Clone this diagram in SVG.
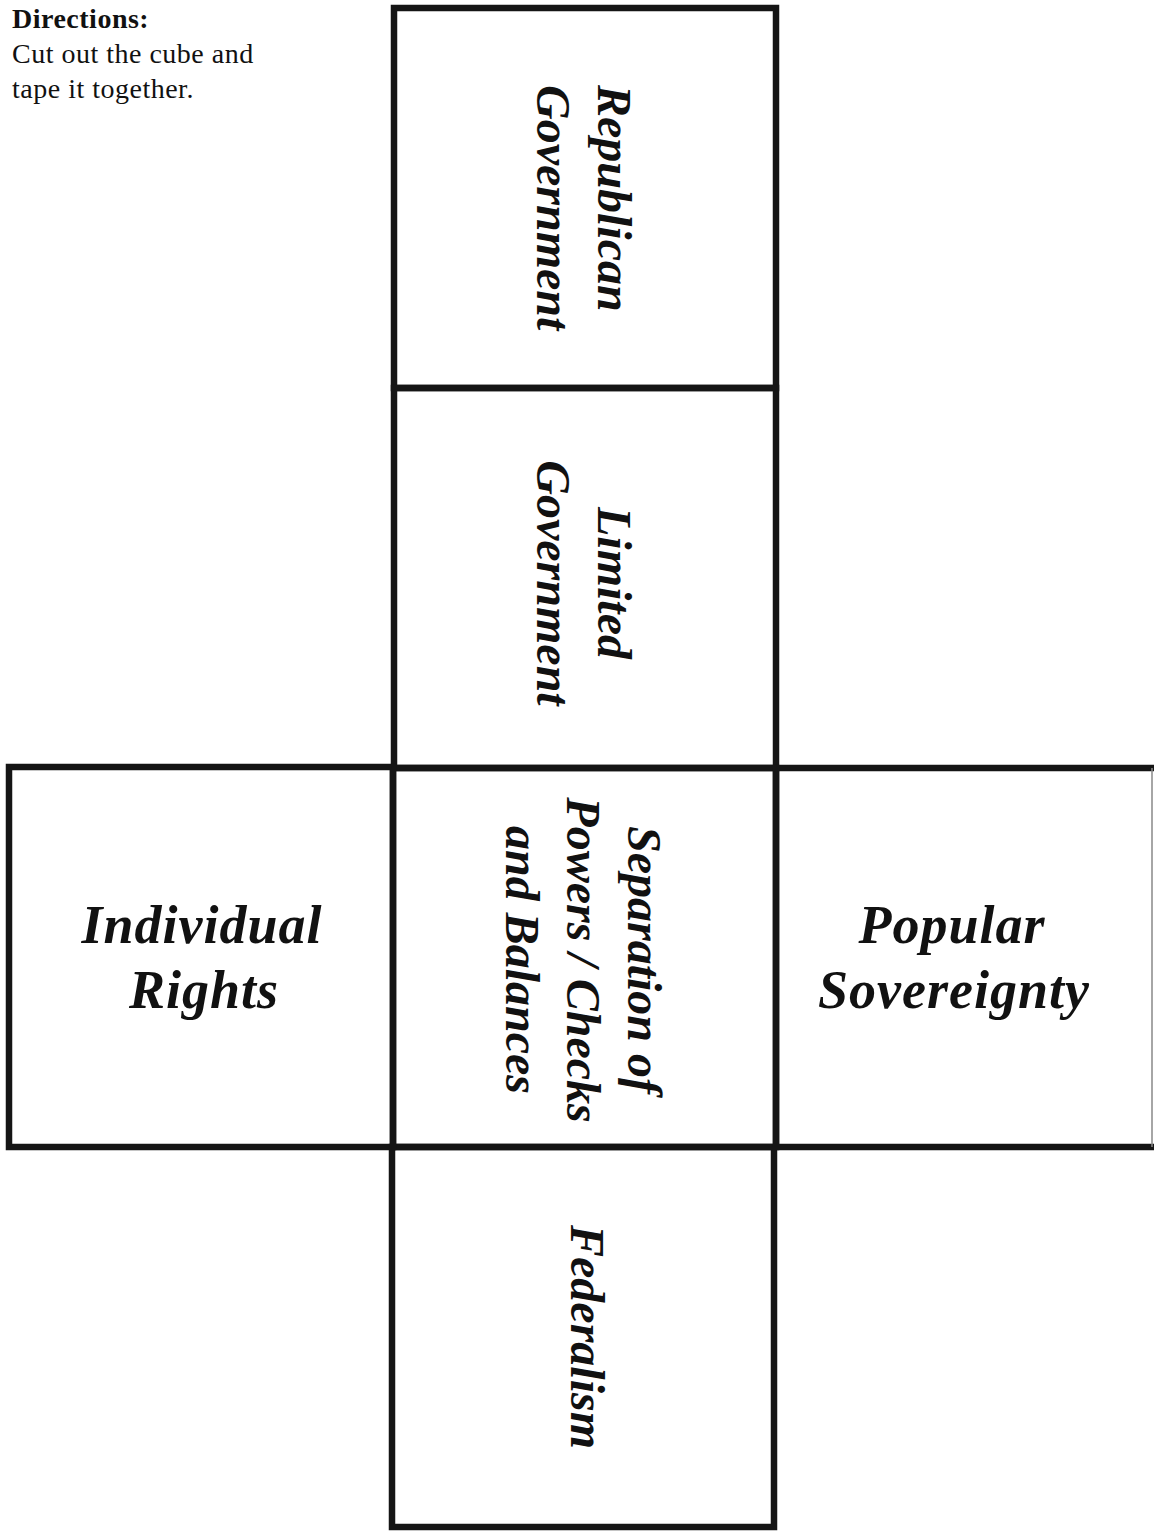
<svg xmlns="http://www.w3.org/2000/svg" width="1154" height="1531" viewBox="0 0 1154 1531">
<style>
.face{fill:none;stroke:#151515;stroke-width:6.5;stroke-linejoin:miter}
.lbl{font-family:"Liberation Serif","Times New Roman",serif;font-weight:bold;font-style:italic;font-size:48px;fill:#111}
.big{font-size:54px;letter-spacing:1px}
.dir{font-family:"Liberation Serif","Times New Roman",serif;font-size:28px;fill:#111;letter-spacing:0.5px}
</style>
<rect width="1154" height="1531" fill="#fff"/>
<g id="directions">
<text class="dir" x="12" y="28" font-weight="bold" letter-spacing="0">Directions:</text>
<text class="dir" x="12" y="63">Cut out the cube and</text>
<text class="dir" x="12" y="98">tape it together.</text>
</g>
<g id="face-republican">
<rect class="face" x="394" y="8" width="382" height="380"/>
<text class="lbl" transform="translate(598,85) rotate(90)"><tspan x="0" y="0">Republican</tspan><tspan x="0" y="61">Government</tspan></text>
</g>
<g id="face-limited">
<rect class="face" x="394" y="388" width="382" height="380"/>
<text class="lbl" text-anchor="middle" transform="translate(598,583) rotate(90)"><tspan x="0" y="0">Limited</tspan><tspan x="0" y="61">Government</tspan></text>
</g>
<g id="face-separation">
<rect class="face" x="393" y="768" width="383" height="379"/>
<text class="lbl" text-anchor="middle" transform="translate(628,960) rotate(90)"><tspan x="0" y="0">Separation of</tspan><tspan x="0" y="61">Powers / Checks</tspan><tspan x="0" y="122">and Balances</tspan></text>
</g>
<g id="face-federalism">
<rect class="face" x="392" y="1147" width="382" height="380"/>
<text class="lbl" text-anchor="middle" transform="translate(571,1337) rotate(90)">Federalism</text>
</g>
<g id="face-individual">
<rect class="face" x="9" y="767" width="384" height="380"/>
<text class="lbl big" text-anchor="middle" x="202" y="943">Individual</text>
<text class="lbl big" text-anchor="middle" x="204" y="1008">Rights</text>
</g>
<g id="face-popular">
<path class="face" d="M776 768 H1154 M776 1147 H1154 M776 768 V1147"/>
<line x1="1152" y1="768" x2="1152" y2="1147" stroke="#888" stroke-width="1.5"/>
<text class="lbl big" text-anchor="middle" x="952" y="943" letter-spacing="0">Popular</text>
<text class="lbl big" text-anchor="middle" x="954" y="1008" letter-spacing="2">Sovereignty</text>
</g>
</svg>
